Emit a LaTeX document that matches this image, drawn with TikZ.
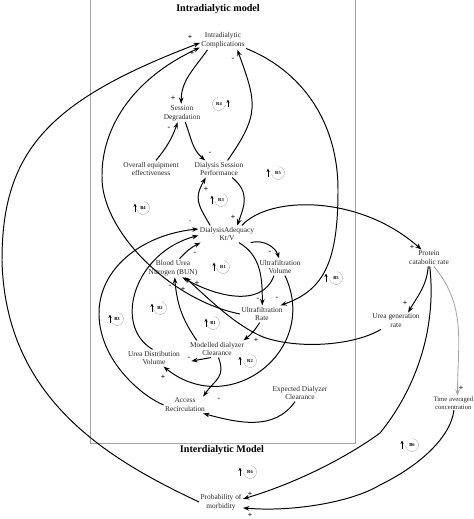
\documentclass[tikz,border=0pt]{standalone}
\usepackage{fontspec}
\setmainfont{Liberation Serif}
\usetikzlibrary{arrows.meta}
\newcommand{\cld}[6]{%
  \draw[gray!60,line width=0.5pt] (#1,-#2) ++(#5:6.5) arc[start angle=#5,delta angle=#6,radius=6.5];
  \node[font=\fontsize{6.5}{6.5}\selectfont\bfseries,inner sep=0pt] (#3) at (#1,-#2) {#3};
  \draw[-{Stealth[length=5pt,width=4.5pt]},line width=0.9pt] (#1+#4,-#2-3.5) -- (#1+#4,-#2+4.5);}

\begin{document}
\begin{tikzpicture}[>={Stealth[length=9pt,width=6.5pt]},x=0.5mm,y=0.5mm,
  var/.style={align=center,inner sep=2pt,font=\fontsize{10.5}{12.6}\selectfont,text=black!85},
  ttl/.style={font=\fontsize{14.4}{16}\selectfont\bfseries},
  lnk/.style={->,line width=1.4pt},
  sgn/.style={font=\fontsize{11}{11}\selectfont\bfseries,inner sep=0pt}]
\useasboundingbox (0,0) rectangle (474,-519);
\clip (0,0) rectangle (474,-519);
\draw[gray!70,line width=1pt] (90,2) -- (90,-443) -- (355,-443) -- (355,2);
\node[ttl] (tin) at (218,-9) {Intradialytic model};
\node[ttl] (tout) at (222,-450) {Interdialytic Model};

\node[var] (cmp) at (223,-40.5) {Intradialytic\\Complications};
\node[var] (sdg) at (182,-113) {Session\\Degradation};
\node[var] (oee) at (151,-169) {Overall equipment\\effectiveness};
\node[var] (dsp) at (219,-169) {Dialysis Session\\Performance};
\node[var] (ktv) at (227,-234) {DialysisAdequacy\\Kt/V};
\node[var] (bun) at (173,-268) {Blood Urea\\Nitrogen (BUN)};
\node[var] (ufv) at (280,-267) {Ultrafiltration\\Volume};
\node[var] (ufr) at (262,-314) {Ultrafiltration\\Rate};
\node[var] (mdc) at (217,-349) {Modelled dialyzer\\Clearance};
\node[var] (udv) at (154,-358) {Urea Distribution\\Volume};
\node[var] (acr) at (185,-405) {Access\\Recirculation};
\node[var] (edc) at (300,-393) {Expected Dialyzer\\Clearance};
\node[var] (pcr) at (429,-258) {Protein\\catabolic rate};
\node[var] (ugr) at (396,-321) {Urea generation\\rate};
\node[var,anchor=east,font=\fontsize{9.5}{11.5}\selectfont,inner sep=1pt] (tac) at (474,-403) {Time averaged\\concentration};
\node[var] (pom) at (221,-502) {Probability of\\morbidity};

\draw[lnk] (pom.west) .. controls (110,-460) and (5,-400) .. (2,-260) .. controls (2,-150) and (50,-100) .. (cmp.186);
\draw[lnk] (ufr.180) .. controls (170,-300) and (100,-230) .. (102,-175) .. controls (102,-130) and (130,-80) .. (cmp.197);
\draw[lnk] (cmp.211) to[out=235,in=90] (sdg.95);
\draw[lnk] (dsp.45) to[out=55,in=290,looseness=1.3] (cmp.327);
\draw[lnk] (cmp.341) .. controls (300,-70) and (338,-120) .. (338,-190) .. controls (338,-260) and (325,-290) .. (ufr.25);
\draw[lnk] (oee.60) to[bend right=10] (sdg.245);
\draw[lnk] (sdg.290) to[out=290,in=140] (dsp.148);
\draw[lnk] (ktv.153) to[out=120,in=240,looseness=1.3] (dsp.213);
\draw[lnk] (dsp.327) to[out=-40,in=70,looseness=1.2] (ktv.40);
\draw[lnk] (ktv.30) .. controls (270,-195) and (360,-195) .. (pcr.132);
\draw[lnk] (pcr.265) to[out=265,in=60] (ugr.35);
\draw[lnk] (ugr.209) .. controls (355,-345) and (300,-350) .. (263,-337) .. controls (235,-325) and (210,-300) .. (bun.322);
\draw[lnk] (ufv.235) to[out=250,in=-30] (bun.315);
\draw[lnk] (bun.55) to[bend left=10] (ktv.198);
\draw[lnk] (ktv.340) to[out=15,in=110] (ufv.95);
\draw[lnk] (ktv.324) to[out=-30,in=90] (ufr.88);
\draw[lnk] (ufr.255) to[bend left=10] (mdc.18);
\draw[lnk,shorten >=5mm] (mdc.235) -- (udv.350);
\draw[lnk] (mdc.280) to[out=-70,in=55,looseness=1.3] (acr.25);
\draw[lnk] (edc.240) to[out=235,in=-15] (acr.335);
\draw[lnk] (acr.180) .. controls (140,-395) and (100,-360) .. (99,-315) .. controls (98,-270) and (140,-235) .. (ktv.170);
\draw[lnk] (udv.100) .. controls (112,-325) and (135,-252) .. (ktv.183);
\draw[lnk] (mdc.157) to[out=125,in=275] (bun.280);
\draw[lnk] (ufv.300) .. controls (320,-350) and (230,-420) .. (udv.318);
\draw[lnk] (pcr.275) .. controls (437,-330) and (415,-390) .. (380,-433) .. controls (350,-455) and (300,-482) .. (pom.8);
\draw[lnk] (tac.275) .. controls (450,-440) and (415,-468) .. (380,-485) .. controls (350,-503) and (290,-512) .. (pom.345);
\draw[lnk,gray!70,line width=1.2pt] (pcr.300) to[out=-50,in=90] (tac.60);

\foreach \x/\y/\s [count=\i] in {190/-37/+,192/-53/+,173/-98/+,233/-59/-,169/-128/-,210/-153/-,
  206/-189/+,233/-217/+,412/-247/+,405/-303/+,197/-283/+,195/-253/-,270/-252/-,258/-299/-,
  277/-298/-,256/-340/+,189/-358/-,219/-399/-,170/-286/-,183/-289/+,163/-377/+,250/-494/+,
  250/-515/+,461/-388/+}
  \node[sgn] (p\i) at (\x,\y) {\s};
\node[sgn,font=\fontsize{6}{6}\selectfont\bfseries,text=green!50!black] (g1) at (190,-221) {+};
\node[sgn,font=\fontsize{6}{6}\selectfont\bfseries,text=green!50!black] (g2) at (189,-230) {+};

\cld{219}{104}{R4}{9}{100}{250}
\cld{278}{173}{R5}{-10}{80}{-250}
\cld{221}{200}{R3}{-9}{80}{-250}
\cld{143}{208}{B4}{-8}{80}{-250}
\cld{223}{267}{R1}{-9}{80}{-250}
\cld{336}{278}{B5}{-10}{80}{-250}
\cld{160}{308}{B2}{-8}{80}{-250}
\cld{117}{319}{B3}{-7}{80}{-250}
\cld{213}{323}{B1}{-7}{80}{-250}
\cld{250}{361}{R2}{-10}{80}{-250}
\cld{250}{472}{R6}{-10}{80}{-250}
\cld{412}{445}{B6}{-10}{80}{-250}
\end{tikzpicture}
\end{document}
